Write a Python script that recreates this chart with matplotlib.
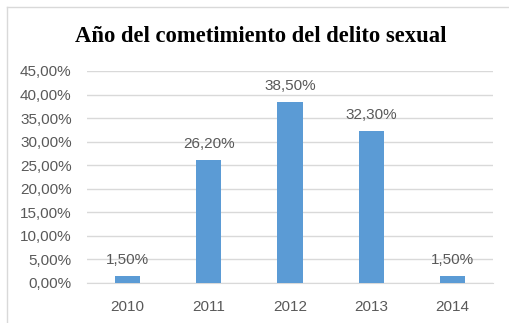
import matplotlib
matplotlib.use("Agg")
import matplotlib.pyplot as plt
from matplotlib.lines import Line2D
from matplotlib.ticker import MultipleLocator, FuncFormatter

# data
years = ["2010", "2011", "2012", "2013", "2014"]
values = [1.5, 26.2, 38.5, 32.3, 1.5]
labels = ["1,50%", "26,20%", "38,50%", "32,30%", "1,50%"]

W, H = 509, 323
fig = plt.figure(figsize=(W / 100, H / 100), dpi=100)
fig.patch.set_facecolor("white")

ax = fig.add_axes([87 / W, 1 - 283 / H, (493 - 87) / W, (283 - 71) / H])

x = range(len(years))
ax.bar(x, values, width=0.31, color="#5B9BD5", zorder=3)

for xi, v, lab in zip(x, values, labels):
    ax.annotate(lab, (xi, v), xytext=(0, 8.6), textcoords="offset points",
                ha="center", va="baseline", fontsize=11,
                color="#595959", family="Liberation Sans")

ax.set_xlim(-0.5, len(years) - 0.5)
ax.set_ylim(0, 45)
ax.yaxis.set_major_locator(MultipleLocator(5))
ax.yaxis.set_major_formatter(FuncFormatter(lambda v, p: f"{v:.2f}%".replace(".", ",")))
ax.set_xticks(list(x))
ax.set_xticklabels(years)

ax.grid(axis="y", color="#D9D9D9", linewidth=1, zorder=0)
for s in ["top", "right", "left"]:
    ax.spines[s].set_visible(False)
ax.spines["bottom"].set_color("#D9D9D9")
ax.tick_params(length=0, labelsize=11, colors="#595959")
ax.tick_params(axis="y", pad=11)
ax.tick_params(axis="x", pad=12)
for t in ax.get_xticklabels() + ax.get_yticklabels():
    t.set_family("Liberation Sans")

fig.text(261 / W, 1 - 36 / H, "Año del cometimiento del delito sexual",
         ha="center", va="center", fontsize=16.3, fontweight="bold",
         family="Liberation Serif", color="black")

# chart frame
fig.add_artist(Line2D([7 / W, 7 / W], [0, 1 - 7 / H], transform=fig.transFigure,
                      color="#D9D9D9", linewidth=1))
fig.add_artist(Line2D([7 / W, 1], [1 - 7 / H, 1 - 7 / H], transform=fig.transFigure,
                      color="#D9D9D9", linewidth=1))

fig.savefig("out.png", dpi=100)
